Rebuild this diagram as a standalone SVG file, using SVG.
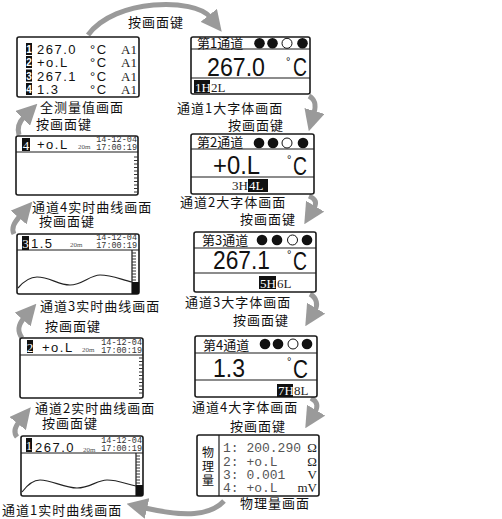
<svg xmlns="http://www.w3.org/2000/svg" width="502" height="519" viewBox="0 0 502 519">
<style>
.box{fill:#fff;stroke:#1a1a1a;stroke-width:1.6}
.sep{stroke:#1a1a1a;stroke-width:1.2;fill:none}
.lbl{font-family:"Noto Sans CJK SC",sans-serif;font-size:13px;letter-spacing:1px;fill:#111}
.hdr{font-family:"Noto Sans CJK SC",sans-serif;font-size:13px;fill:#111}
.vert{font-family:"Noto Sans CJK SC",sans-serif;font-size:12px;fill:#111}
.val{font-family:"Liberation Sans",sans-serif;font-size:13px;letter-spacing:1.5px;fill:#111}
.ser{font-family:"Liberation Serif",serif;font-size:13px;fill:#222}
.serw{font-family:"Liberation Serif",serif;font-size:13px;fill:#fff}
.big{font-family:"Liberation Sans",sans-serif;font-size:26px;fill:#111}
.deg{font-family:"Liberation Sans",sans-serif;font-size:11px;fill:#111}
.bw{font-family:"Liberation Sans",sans-serif;font-size:10px;font-weight:bold;fill:#fff}
.tiny{font-family:"Liberation Mono",monospace;font-size:8.5px;fill:#333}
.sm{font-family:"Liberation Serif",serif;font-size:7px;fill:#555}
.mono{font-family:"Liberation Mono",monospace;font-size:13px;fill:#555}
.arrow{fill:none;stroke:#9a9a9a;stroke-width:5;marker-end:url(#ah)}
.tick{stroke:#333;stroke-width:1;fill:none}
.wave{stroke:#222;stroke-width:1.2;fill:none}
</style>
<defs>
<marker id="ah" viewBox="0 0 20 20" refX="2" refY="10" markerWidth="21" markerHeight="21" markerUnits="userSpaceOnUse" orient="auto"><path d="M0,0 L20,10 L0,20 Z" fill="#9a9a9a"/></marker>
</defs>

<g id="connectors">
<path class="arrow" d="M88 35 C115 -2 195 -2 210 17"/>
<path class="arrow" d="M309 96 C316 100 316 106 314 113"/>
<path class="arrow" d="M309 196 C316 199 317 203 314 208"/>
<path class="arrow" d="M310 294 C317 298 318 305 315 310"/>
<path class="arrow" d="M311 398 C318 402 318 407 315 412"/>
<path class="arrow" d="M224 501 C210 516 185 517 145 508"/>
<path class="arrow" d="M17 437 C13 432 15 427 19 422"/>
<path class="arrow" d="M22 338 C17 331 18 325 24 318"/>
<path class="arrow" d="M14 234 C11 228 14 223 20 216"/>
<path class="arrow" d="M19 135 C17 128 19 122 24 117"/>
</g>

<g id="labels">
<text class="lbl" x="128" y="27">按画面键</text>
<text class="lbl" x="40" y="112">全测量值画面</text>
<text class="lbl" x="36" y="129">按画面键</text>
<text class="lbl" x="177" y="113">通道1大字体画面</text>
<text class="lbl" x="228" y="130">按画面键</text>
<text class="lbl" x="180" y="207">通道2大字体画面</text>
<text class="lbl" x="240" y="224">按画面键</text>
<text class="lbl" x="185" y="307">通道3大字体画面</text>
<text class="lbl" x="233" y="325">按画面键</text>
<text class="lbl" x="192" y="412">通道4大字体画面</text>
<text class="lbl" x="230" y="431">按画面键</text>
<text class="lbl" x="240" y="508">物理量画面</text>
<text class="lbl" x="32" y="212">通道4实时曲线画面</text>
<text class="lbl" x="39" y="226">按画面键</text>
<text class="lbl" x="40" y="311">通道3实时曲线画面</text>
<text class="lbl" x="45" y="331">按画面键</text>
<text class="lbl" x="35" y="413">通道2实时曲线画面</text>
<text class="lbl" x="42" y="428">按画面键</text>
<text class="lbl" x="2" y="515">通道1实时曲线画面</text>
</g>

<g id="all-values">
<rect class="box" x="17" y="37" width="122" height="60" rx="2"/>
<rect x="26" y="43" width="6" height="12" fill="#111"/>
<rect x="26" y="56" width="6" height="12" fill="#111"/>
<rect x="26" y="69.5" width="6" height="12" fill="#111"/>
<rect x="26" y="83" width="6" height="12" fill="#111"/>
<text class="bw" x="29" y="53" text-anchor="middle">1</text>
<text class="bw" x="29" y="66" text-anchor="middle">2</text>
<text class="bw" x="29" y="79.5" text-anchor="middle">3</text>
<text class="bw" x="29" y="93" text-anchor="middle">4</text>
<text class="val" x="37" y="54">267.0</text>
<text class="val" x="37" y="67">+o.L</text>
<text class="val" x="37" y="80.5">267.1</text>
<text class="val" x="37" y="94">1.3</text>
<text class="val" x="90" y="54">°C</text>
<text class="val" x="90" y="67">°C</text>
<text class="val" x="90" y="80.5">°C</text>
<text class="val" x="90" y="94">°C</text>
<text class="ser" x="137" y="54" text-anchor="end">A1</text>
<text class="ser" x="137" y="67" text-anchor="end">A1</text>
<text class="ser" x="137" y="80.5" text-anchor="end">A1</text>
<text class="ser" x="137" y="94" text-anchor="end">A1</text>
</g>

<g id="ch1-big">
<rect class="box" x="191" y="37" width="119" height="57" rx="2"/>
<path class="sep" d="M191 49H310M191 78H310"/>
<text class="hdr" x="197" y="47.5">第1通道</text>
<circle cx="259.5" cy="43.3" r="5.3" fill="#111"/>
<circle cx="272.5" cy="43.3" r="5.3" fill="#111"/>
<circle cx="287" cy="43.3" r="5" fill="#fff" stroke="#111" stroke-width="1"/>
<circle cx="302.5" cy="43.3" r="5.3" fill="#111"/>
<text class="big" x="207" y="76" textLength="58" lengthAdjust="spacingAndGlyphs">267.0</text>
<text class="deg" x="286" y="65">°</text>
<text class="big" x="293" y="76" font-size="28" textLength="14" lengthAdjust="spacingAndGlyphs">C</text>
<rect x="194" y="80" width="16" height="13" fill="#111"/>
<text class="serw" x="195" y="91.5">1H</text>
<text class="ser" x="211" y="91.5" fill="#444">2L</text>
</g>

<g id="ch2-big">
<rect class="box" x="191" y="134" width="123" height="60" rx="2"/>
<path class="sep" d="M191 149H314M191 177H314"/>
<text class="hdr" x="197" y="146.5">第2通道</text>
<circle cx="259" cy="143" r="5.3" fill="#111"/>
<circle cx="273" cy="143" r="5.3" fill="#111"/>
<circle cx="287" cy="143" r="5" fill="#fff" stroke="#111" stroke-width="1"/>
<circle cx="303" cy="143" r="5.3" fill="#111"/>
<text class="big" x="213" y="174" textLength="47" lengthAdjust="spacingAndGlyphs">+0.L</text>
<text class="deg" x="287" y="163">°</text>
<text class="big" x="293" y="175" font-size="28" textLength="14" lengthAdjust="spacingAndGlyphs">C</text>
<text class="ser" x="232" y="190" fill="#444">3H</text>
<rect x="248" y="179" width="20" height="13" fill="#111"/>
<text class="serw" x="249" y="190">4L</text>
</g>

<g id="ch3-big">
<rect class="box" x="194" y="232" width="122" height="60" rx="2"/>
<path class="sep" d="M194 248H316M194 273H316"/>
<text class="hdr" x="202" y="245">第3通道</text>
<circle cx="262" cy="240" r="5.3" fill="#111"/>
<circle cx="277" cy="240" r="5.3" fill="#111"/>
<circle cx="292.5" cy="240" r="5" fill="#fff" stroke="#111" stroke-width="1"/>
<circle cx="307" cy="240" r="5.3" fill="#111"/>
<text class="big" x="213" y="269" textLength="57" lengthAdjust="spacingAndGlyphs">267.1</text>
<text class="deg" x="287" y="258">°</text>
<text class="big" x="293" y="270" font-size="28" textLength="14" lengthAdjust="spacingAndGlyphs">C</text>
<rect x="259" y="276" width="17" height="13" fill="#111"/>
<text class="serw" x="260" y="287.5">5H</text>
<text class="ser" x="277" y="287.5" fill="#444">6L</text>
</g>

<g id="ch4-big">
<rect class="box" x="195" y="336" width="122" height="61" rx="2"/>
<path class="sep" d="M195 353H317M195 380H317"/>
<text class="hdr" x="203" y="349.5">第4通道</text>
<circle cx="265" cy="344" r="5.3" fill="#111"/>
<circle cx="278" cy="344" r="5.3" fill="#111"/>
<circle cx="293" cy="344" r="5" fill="#fff" stroke="#111" stroke-width="1"/>
<circle cx="307" cy="344" r="5.3" fill="#111"/>
<text class="big" x="213" y="377" textLength="32" lengthAdjust="spacingAndGlyphs">1.3</text>
<text class="deg" x="287" y="365">°</text>
<text class="big" x="293" y="378" font-size="28" textLength="15" lengthAdjust="spacingAndGlyphs">C</text>
<rect x="277" y="384" width="16" height="13" fill="#111"/>
<text class="serw" x="278" y="395">7H</text>
<text class="ser" x="294" y="395" fill="#444">8L</text>
</g>

<g id="physical">
<rect class="box" x="197" y="435" width="122" height="61" rx="2"/>
<path class="sep" d="M219 435V496"/>
<text class="vert" x="208" y="456.5" text-anchor="middle">物</text>
<text class="vert" x="208" y="470.5" text-anchor="middle">理</text>
<text class="vert" x="208" y="484.5" text-anchor="middle">量</text>
<text class="mono" x="223" y="452" fill="#444">1: 200.290</text>
<text class="mono" x="223" y="466">2: +o.L</text>
<text class="mono" x="223" y="479">3: 0.001</text>
<text class="mono" x="223" y="492">4: +o.L</text>
<text class="ser" x="317" y="452" text-anchor="end" fill="#111">Ω</text>
<text class="ser" x="317" y="466" text-anchor="end" fill="#111">Ω</text>
<text class="ser" x="317" y="479" text-anchor="end" fill="#555">V</text>
<text class="ser" x="317" y="492" text-anchor="end" fill="#555">mV</text>
</g>

<g id="ch1-curve">
<rect class="box" x="21" y="436" width="122" height="60" rx="2"/>
<path class="sep" d="M21 453H143M136 453V496"/>
<rect x="26" y="438" width="6" height="14" fill="#111"/>
<text class="serw" x="29" y="450" text-anchor="middle" font-size="12">1</text>
<text class="val" x="35" y="452">267.0</text>
<text class="sm" x="83" y="452">20m</text>
<text class="tiny" x="142" y="443" text-anchor="end">14-12-04</text>
<text class="tiny" x="142" y="451" text-anchor="end">17:00:19</text>
<path class="tick" d="M136 456h4M136 459h4M136 462h4M136 465h4M136 468h4M136 471h4M136 474h4M136 477h4M136 480h4M136 483h4"/>
<rect x="136" y="485" width="7" height="11" fill="#111"/>
<path class="wave" d="M22 492 C28 484 34 480 40 480 C52 480 64 488 77 488 C90 488 97 480 107 480 C118 480 126 484 136 486"/>
</g>

<g id="ch2-curve">
<rect class="box" x="20" y="338" width="123" height="60" rx="2"/>
<path class="sep" d="M20 355H143"/>
<rect x="27" y="340" width="6" height="13" fill="#111"/>
<text class="serw" x="30" y="351.5" text-anchor="middle" font-size="12">2</text>
<text class="val" x="42" y="351.5">+o.L</text>
<text class="sm" x="82" y="352">20m</text>
<text class="tiny" x="142" y="345" text-anchor="end">14-12-04</text>
<text class="tiny" x="142" y="352.5" text-anchor="end">17:00:19</text>
<path class="tick" d="M139 358h4M139 361.5h4M139 365h4M139 368.5h4M139 372h4M139 375.5h4M139 379h4M139 382.5h4M139 386h4M139 389.5h4M139 393h4"/>
</g>

<g id="ch3-curve">
<rect class="box" x="17" y="234" width="122" height="60" rx="2"/>
<path class="sep" d="M17 250H139M132 250V294"/>
<rect x="22" y="236" width="7" height="14" fill="#111"/>
<text class="serw" x="25.5" y="248" text-anchor="middle" font-size="12">3</text>
<text class="val" x="31" y="248">1.5</text>
<text class="sm" x="70" y="247">20m</text>
<text class="tiny" x="137" y="240" text-anchor="end">14-12-04</text>
<text class="tiny" x="137" y="247.5" text-anchor="end">17:00:19</text>
<path class="tick" d="M132 253h4M132 256h4M132 259h4M132 262h4M132 265h4M132 268h4M132 271h4M132 274h4M132 277h4M132 280h4"/>
<rect x="132" y="282" width="7" height="12" fill="#111"/>
<path class="wave" d="M18 288 C24 281 30 277 37 277 C50 277 58 285 70 285 C82 285 90 275 100 275 C112 275 122 280 132 282"/>
</g>

<g id="ch4-curve">
<rect class="box" x="16" y="136" width="122" height="59" rx="2"/>
<path class="sep" d="M16 152H138"/>
<rect x="22" y="138" width="8" height="13" fill="#111"/>
<text class="serw" x="26" y="149.5" text-anchor="middle" font-size="12">4</text>
<text class="val" x="37" y="149">+o.L</text>
<text class="sm" x="78" y="149">20m</text>
<text class="tiny" x="137" y="142" text-anchor="end">14-12-04</text>
<text class="tiny" x="137" y="149.5" text-anchor="end">17:00:19</text>
<path class="tick" d="M134 157h4M134 160.5h4M134 164h4M134 167.5h4M134 171h4M134 174.5h4M134 178h4M134 181.5h4M134 185h4M134 188.5h4M134 192h4"/>
</g>
</svg>
